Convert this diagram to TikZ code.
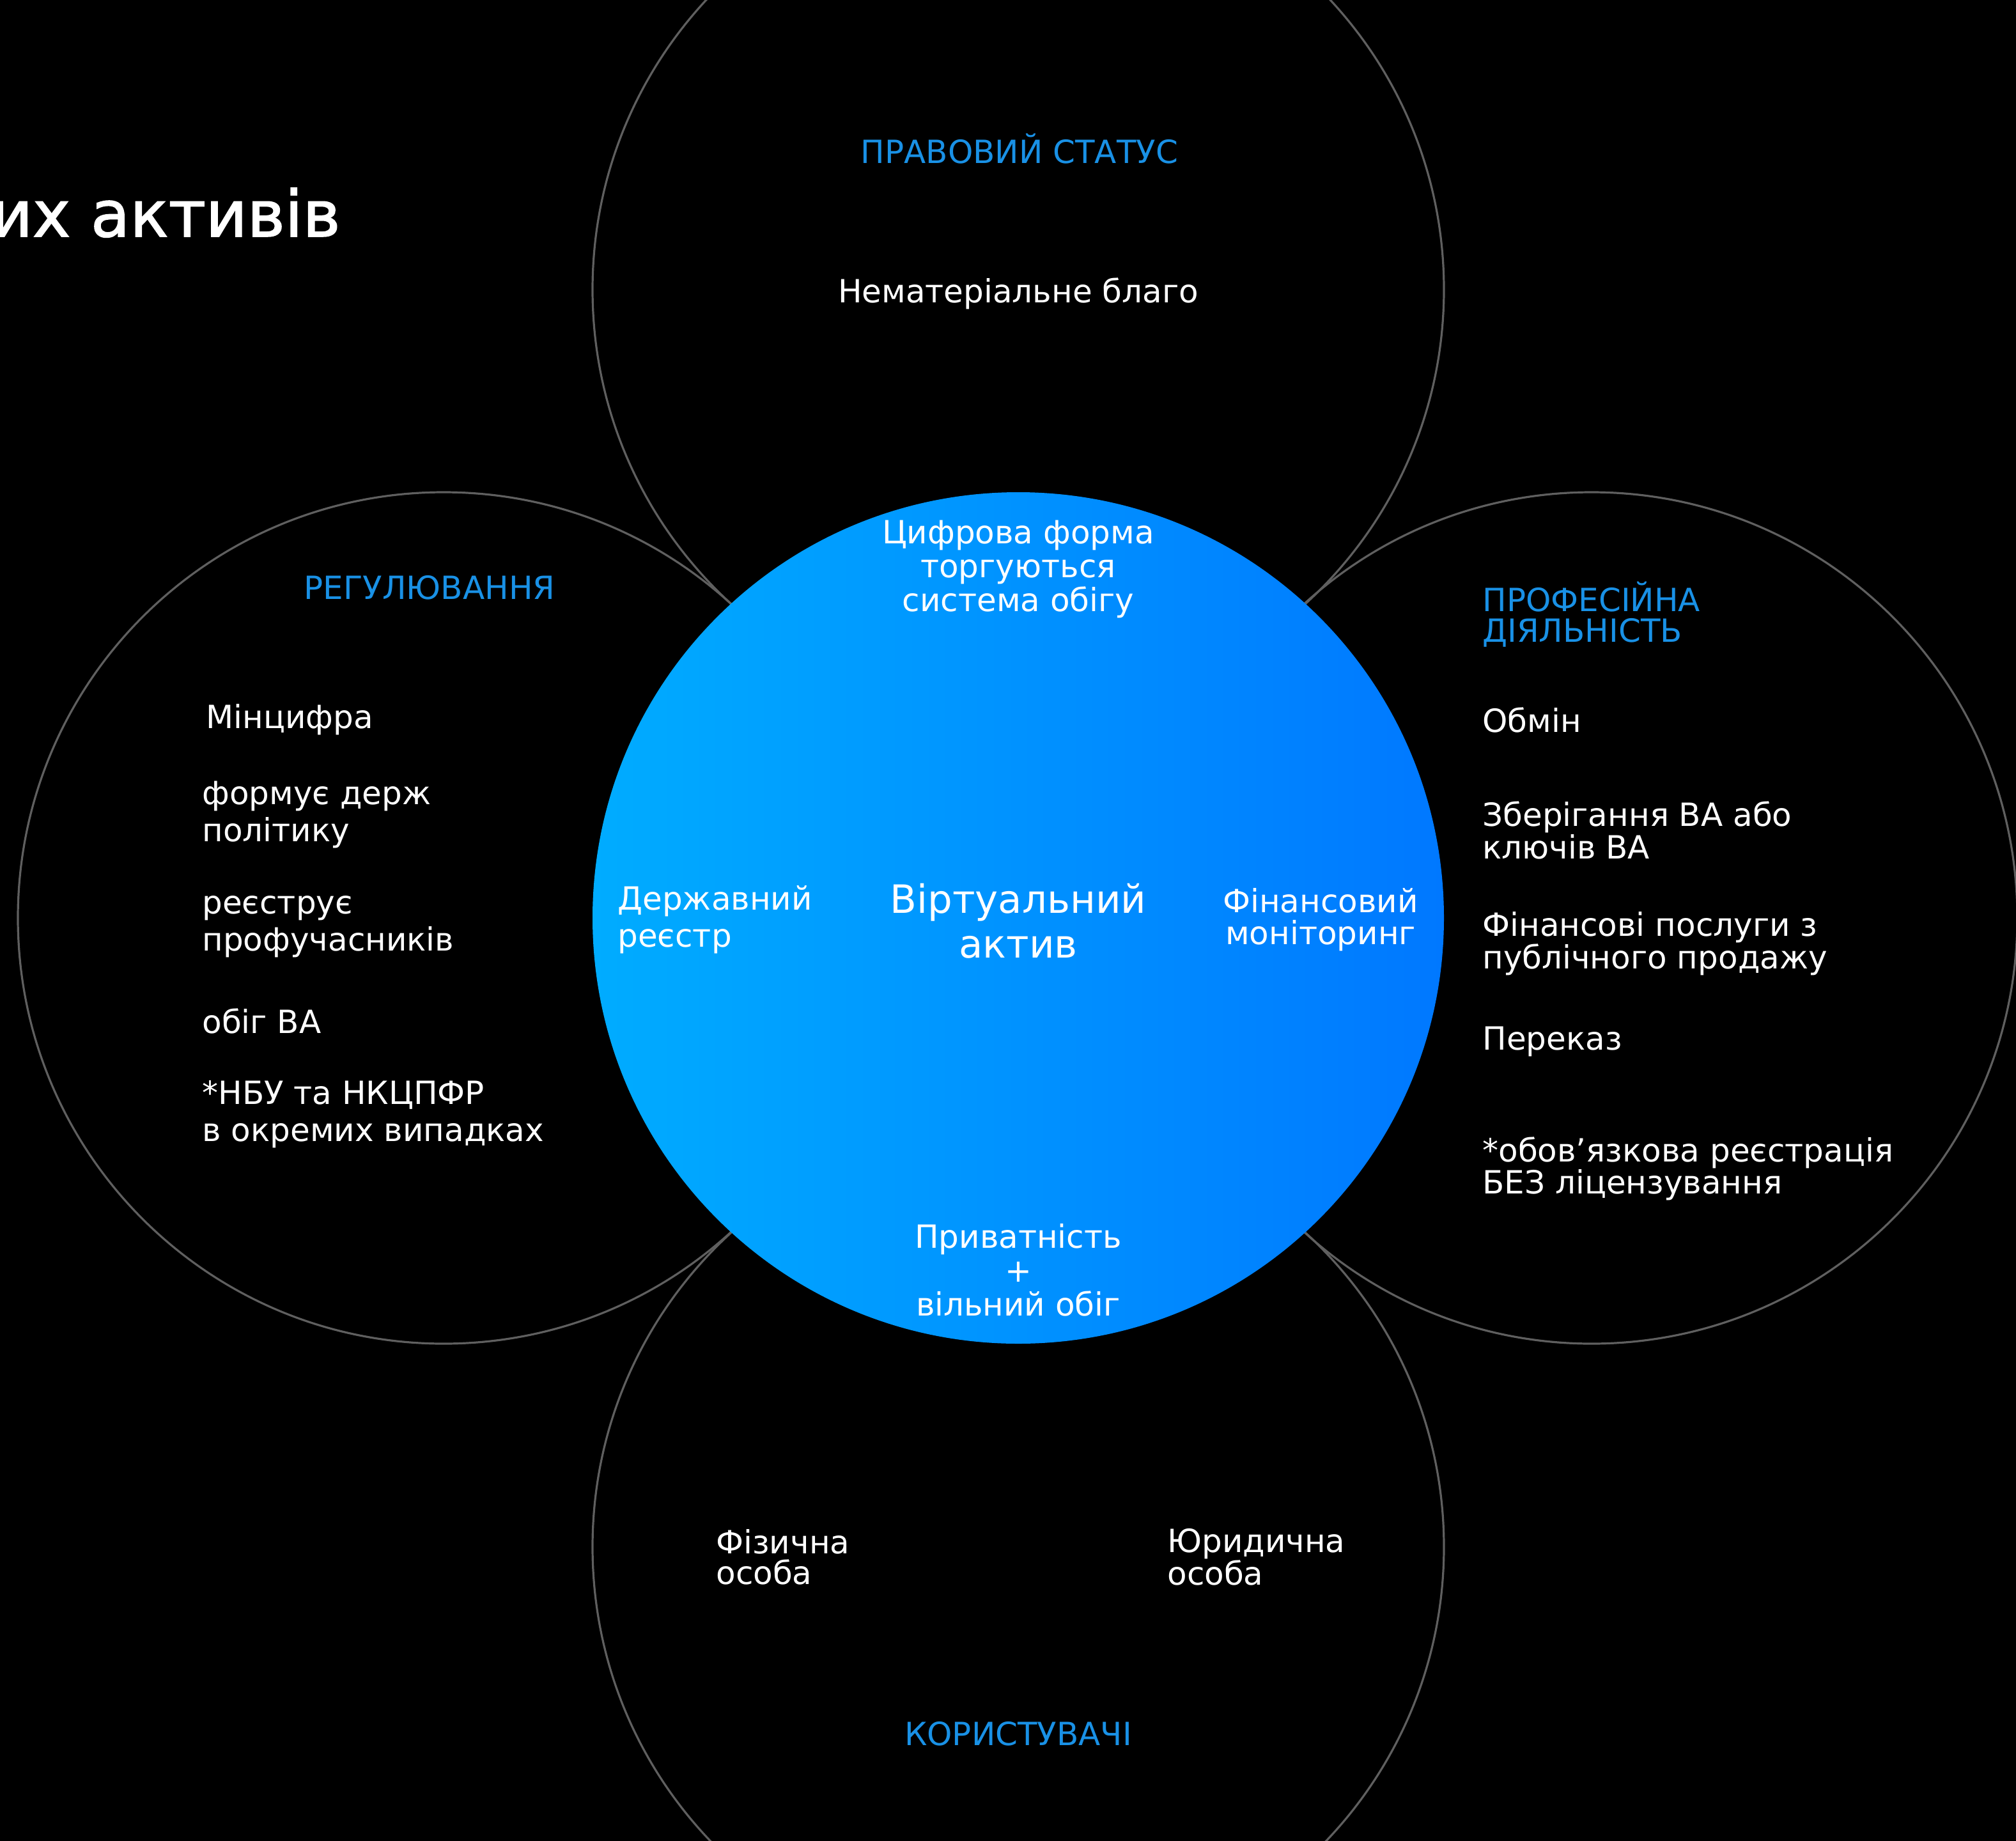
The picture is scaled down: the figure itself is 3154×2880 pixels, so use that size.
\documentclass[tikz,border=0pt]{standalone}
\usepackage{fontspec}
\setmainfont{DejaVu Sans}
\newfontfamily\titlefamily{DejaVu Sans}[FakeBold=1.6]
\definecolor{ringgray}{RGB}{95,95,95}
\definecolor{headblue}{RGB}{25,145,230}
\definecolor{blueL}{RGB}{0,172,255}
\definecolor{blueR}{RGB}{0,120,255}
\tikzset{
  ring/.style={circle, draw=ringgray, line width=1.6pt, minimum size=666pt, inner sep=0pt},
  core/.style={circle, minimum size=666pt, inner sep=0pt, left color=blueL, right color=blueR},
  head/.style={text=headblue, font=\fontsize{25}{24}\selectfont, inner sep=0pt, align=left},
  body/.style={text=white, font=\fontsize{25}{29}\selectfont, inner sep=0pt, align=left, anchor=west},
  tight/.style={font=\fontsize{25}{24}\selectfont},
  mid/.style={text=white, font=\fontsize{25}{26.5}\selectfont, inner sep=0pt, align=center},
  big/.style={text=white, font=\fontsize{30.5}{35}\selectfont, inner sep=0pt, align=center},
  titletext/.style={text=white, font=\titlefamily\fontsize{50}{60}\selectfont, inner sep=0pt}
}
\begin{document}
\begin{tikzpicture}[x=0.5pt, y=-0.5pt]
\fill[black] (0,0) rectangle (3154,2880);
\useasboundingbox (0,0) rectangle (3154,2880);

% outer rings
\node (top)    [ring] at (1593,453)  {};
\node (left)   [ring] at (694,1436)  {};
\node (right)  [ring] at (2490,1436) {};
\node (bottom) [ring] at (1593,2420) {};
% central circle
\node (centre) [core] at (1593,1436) {};

% title (cut off at the left edge, as in the source)
\node (title) [titletext, anchor=base east] at (533,370) {их активів};

% top circle
\node (tophead) [head, align=center] at (1595,233) {ПРАВОВИЙ СТАТУС};
\node (topbody) [mid] at (1593,459) {Нематеріальне благо};

% central circle
\node (ctop) [mid] at (1593,890) {Цифрова форма\\торгуються\\система обігу};
\node (cleft) [body] at (966,1439) {Державний\\реєстр};
\node (cmid) [big] at (1593,1441) {Віртуальний\\актив};
\node (cright) [mid, font=\fontsize{25}{25}\selectfont] at (2066,1439) {Фінансовий\\моніторинг};
\node (cbot) [mid] at (1593,1987) {Приватність\\+\\вільний обіг};

% left circle
\node (lhead) [head] at (672,919) {РЕГУЛЮВАННЯ};
\node (l1) [body] at (322,1126) {Мінцифра};
\node (l2) [body] at (316,1274) {формує держ\\політику};
\node (l3) [body] at (316,1450) {реєструє\\профучасників};
\node (l4) [body] at (316,1597) {обіг ВА};
\node (l5) [body] at (316,1743) {*НБУ та НКЦПФР\\в окремих випадках};

% right circle
\node (rhead) [head, anchor=west] at (2319,961) {ПРОФЕСІЙНА\\ДІЯЛЬНІСТЬ};
\node (r1) [body] at (2319,1126) {Обмін};
\node (r2) [body, tight] at (2319,1299) {Зберігання ВА або\\ключів ВА};
\node (r3) [body, tight] at (2319,1476) {Фінансові послуги з\\публічного продажу};
\node (r4) [body] at (2319,1629) {Переказ};
\node (r5) [body, tight] at (2319,1828) {*обов’язкова реєстрація\\БЕЗ ліцензування};

% bottom circle
\node (b1) [body, tight] at (1120,2436) {Фізична\\особа};
\node (b2) [body, tight] at (1826,2436) {Юридична\\особа};
\node (bhead) [head] at (1593,2712) {КОРИСТУВАЧІ};
\end{tikzpicture}
\end{document}
